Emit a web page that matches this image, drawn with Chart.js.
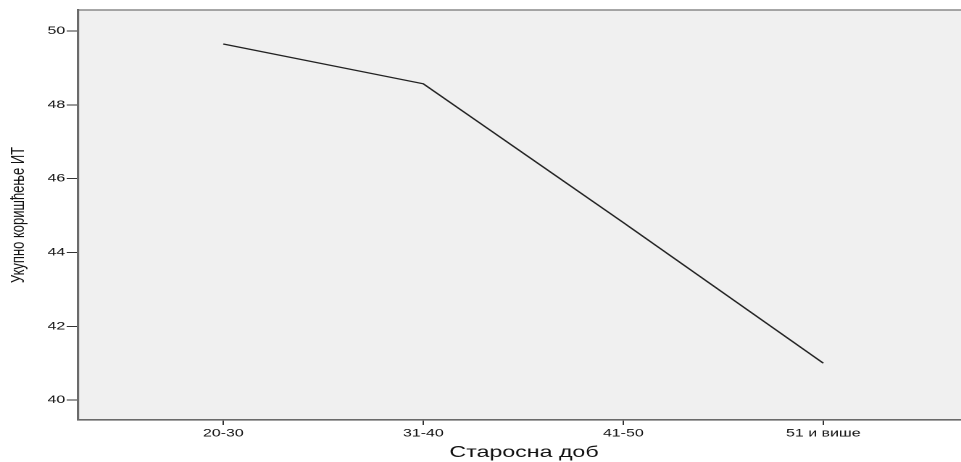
<!DOCTYPE html>
<html>
<head>
<meta charset="utf-8">
<script src="https://cdn.jsdelivr.net/npm/chart.js@4"></script>
<style>
  html, body { margin: 0; padding: 0; background: #fff; overflow: hidden; }
  #wrap { width: 961px; height: 462px; overflow: hidden; }
  /* the source picture was stretched sideways, so the canvas is too */
  #c { transform: scaleX(1.4495); transform-origin: 0 0; }
</style>
</head>
<body>
<div id="wrap"><canvas id="c" width="669" height="462"></canvas></div>
<script>
'use strict';

const categories = ['20-30', '31-40', '41-50', '51 и више'];
const meanUsage = [49.65, 48.57, 44.81, 41.0];
const yTicks = [40, 42, 44, 46, 48, 50];

const plotBackground = {
  id: 'plotBackground',
  beforeDraw(chart) {
    const { ctx, chartArea: a } = chart;
    ctx.save();
    ctx.fillStyle = '#f0f0f0';
    ctx.fillRect(a.left, a.top, a.right - a.left, a.bottom - a.top);
    ctx.strokeStyle = '#8a8a8a';
    ctx.lineWidth = 1.6;
    ctx.beginPath();
    ctx.moveTo(a.left, a.top);
    ctx.lineTo(a.right + 10, a.top);
    ctx.stroke();
    ctx.restore();
  }
};

Chart.defaults.font.family = '"Liberation Sans", Arial, sans-serif';
Chart.defaults.color = '#111';

new Chart(document.getElementById('c').getContext('2d'), {
  type: 'line',
  data: {
    datasets: [{
      data: meanUsage.map((v, i) => ({ x: i, y: v })),
      borderColor: '#222',
      borderWidth: 1.3,
      pointRadius: 0,
      tension: 0,
      fill: false
    }]
  },
  options: {
    responsive: false,
    animation: false,
    devicePixelRatio: 2,
    layout: { padding: { top: 10, left: 0, right: 0, bottom: 0 } },
    plugins: { legend: { display: false }, tooltip: { enabled: false } },
    scales: {
      x: {
        type: 'linear',
        min: -0.725,
        max: 3.732,
        afterBuildTicks: (scale) => {
          scale.ticks = categories.map((c, i) => ({ value: i }));
        },
        afterFit: (scale) => { scale.height = 42; },
        ticks: {
          callback: (value) => categories[value],
          font: { size: 11 },
          padding: 2,
          maxRotation: 0
        },
        grid: { drawOnChartArea: false, drawTicks: true, tickLength: 5, tickColor: '#333', tickWidth: 1 },
        border: { color: '#6a6a6a', width: 1.6 },
        title: { display: true, text: 'Старосна доб', font: { size: 16 }, padding: { top: 0, bottom: 0 } }
      },
      y: {
        min: 39.46,
        max: 50.57,
        afterBuildTicks: (scale) => {
          scale.ticks = yTicks.map(v => ({ value: v }));
        },
        afterFit: (scale) => { scale.width = 54; },
        ticks: { font: { size: 11 }, padding: 1 },
        grid: { drawOnChartArea: false, drawTicks: true, tickLength: 8, tickColor: '#333', tickWidth: 1 },
        border: { color: '#6a6a6a', width: 1.6 },
        title: { display: true, text: 'Укупно коришћење ИТ', font: { size: 13 }, padding: { top: 5, bottom: 0 } }
      }
    }
  },
  plugins: [plotBackground]
});
</script>
</body>
</html>
